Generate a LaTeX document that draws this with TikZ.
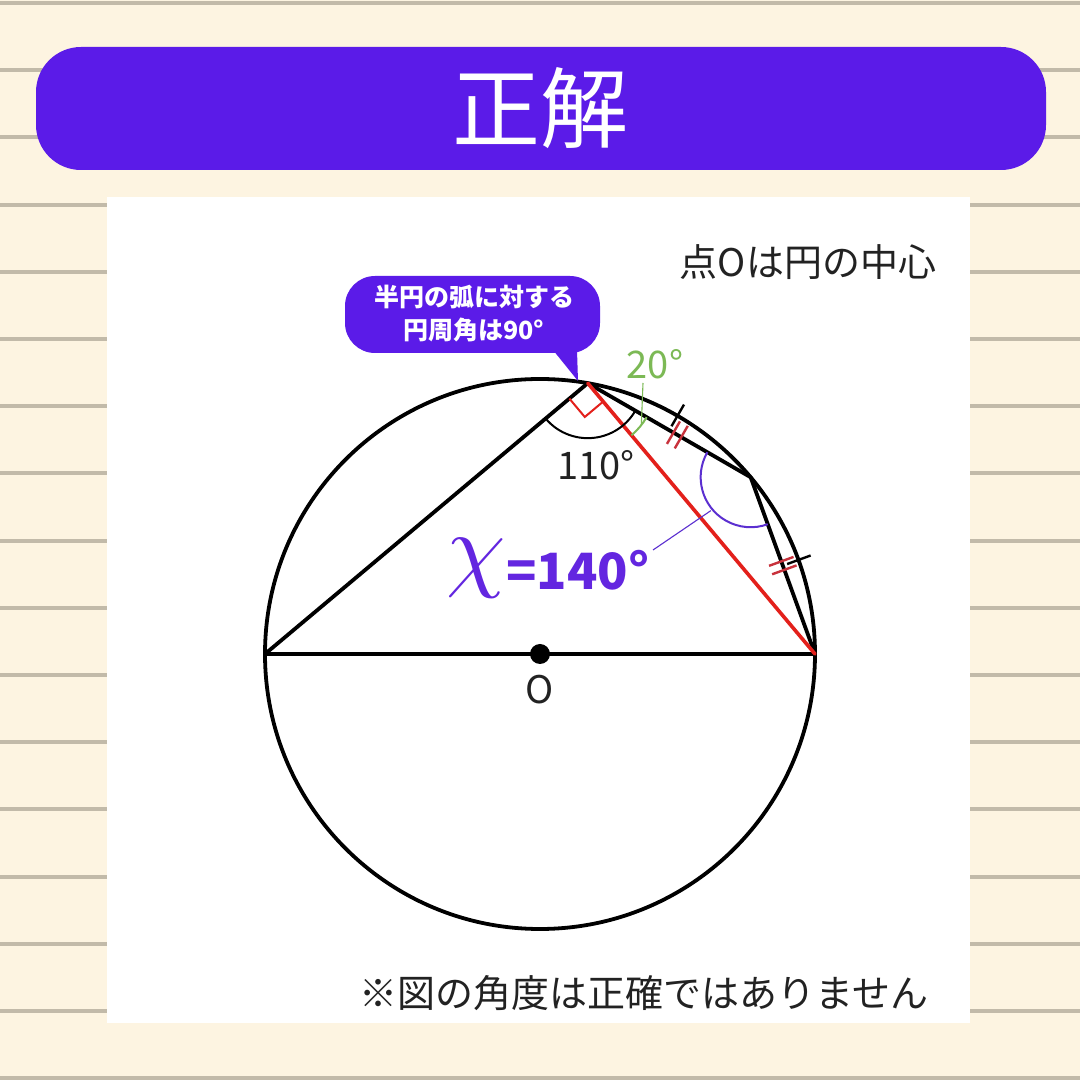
\documentclass[tikz,border=0pt]{standalone}
\usepackage{fontspec}
\newfontfamily\jp{Noto Sans CJK JP}
\usetikzlibrary{calc}
\definecolor{cream}{HTML}{FDF4E1}
\definecolor{rulec}{HTML}{C2BAA9}
\definecolor{hdr}{HTML}{5B1BE8}
\definecolor{purx}{HTML}{6326E0}
\definecolor{parc}{HTML}{5B2FD0}
\definecolor{grn}{HTML}{7CB955}
\definecolor{redl}{HTML}{E3201B}
\definecolor{redt}{HTML}{C8323C}
\definecolor{txt}{HTML}{222222}
\begin{document}
\begin{tikzpicture}[x=1pt,y=1pt,
  chord/.style={line width=3.8pt,black,line cap=round,line join=round},
  tick/.style={line width=2.4pt,black},
  rtick/.style={line width=2.4pt,redt},
  lbl/.style={font=\jp\fontsize{38}{38}\selectfont,text=txt,inner sep=0pt},
  leader/.style={line width=1.1pt}]
\useasboundingbox (0,0) rectangle (1080,1080);
% background
\fill[cream] (0,0) rectangle (1080,1080);
\foreach \k in {0,...,16}{
  \fill[rulec] (0,{1077-67.2*\k-2}) rectangle (1080,{1077-67.2*\k+2});
}
% header
\fill[hdr,rounded corners=45pt] (36,910) rectangle (1046,1033);
\node[text=white,font=\jp\fontsize{88}{88}\selectfont,inner sep=0pt] (title) at (540,972) {正解};
% panel
\fill[white] (107,57) rectangle (970,883);
% texts
\node[lbl] (note1) at (808,818) {点Oは円の中心};
\node[lbl] (note2) at (644,87) {※図の角度は正確ではありません};
% geometry
\coordinate (O) at (540,426);
\coordinate (A) at (265,426);
\coordinate (B) at (815,426);
\coordinate (C) at ($(O)+(80:275)$);
\coordinate (D) at ($(O)+(40:275)$);
\draw[line width=3.8pt] (O) circle[radius=275];
\draw[chord] (A) -- (B);
\draw[chord] (A) -- (C) -- (D) -- (B);
\draw[line width=3.6pt,redl,line cap=round] (C) -- (B);
\fill (O) circle[radius=10];
\node[lbl] (olbl) at (540,390) {O};
% right angle mark
\draw[redl,line width=2pt] ($(C)+(220:24)$) -- ($(C)+(220:24)+(310:24)$) -- ($(C)+(310:24)$);
% 110 arc
\draw[line width=2pt] ($(C)+(220:55)$) arc[start angle=220,end angle=330,radius=55];
\node[lbl] (l110) at (596,615) {110°};
% 20 arc
\draw[grn,line width=2pt] ($(C)+(310:68)$) arc[start angle=310,end angle=330,radius=68];
\coordinate (g1) at ($(C)+(322:68)$);
\coordinate (g2) at (643,697);
\draw[grn,leader] (g1) -- (g2);
\node[lbl,text=grn] (l20) at (655,716) {20°};
% x arc at D
\draw[parc,line width=2pt] ($(D)+(150:50)$) arc[start angle=150,end angle=290,radius=50];
\coordinate (p1) at ($(D)+(220:52)$);
\coordinate (p2) at (653,530);
\draw[parc,leader] (p1) -- (p2);
\node[text=purx,inner sep=0pt] (chi) at (476,512) {\scalebox{9.5}{$\chi$}};
\node[text=purx,font=\jp\bfseries\fontsize{50}{50}\selectfont,inner sep=0pt] (val) at (578,510) {=140°};
% equal-chord ticks
\coordinate (M1) at ($(C)!0.55!(D)$);
\coordinate (M2) at ($(D)!0.5!(B)$);
\draw[rtick] ($(M1)+(330:4.5)+(60:-13)$) -- ($(M1)+(330:4.5)+(60:13)$);
\draw[rtick] ($(M1)+(330:-4.5)+(60:-13)$) -- ($(M1)+(330:-4.5)+(60:13)$);
\draw[rtick] ($(M2)+(290:4.5)+(20:-13)$) -- ($(M2)+(290:4.5)+(20:13)$);
\draw[rtick] ($(M2)+(290:-4.5)+(20:-13)$) -- ($(M2)+(290:-4.5)+(20:13)$);
\draw[tick] ($(O)+(60:263)$) -- ($(O)+(60:288)$);
\draw[tick] ($(O)+(20:263)$) -- ($(O)+(20:288)$);
% bubble
\fill[hdr,rounded corners=30pt] (345,727) rectangle (600,804);
\fill[hdr] (553,730) -- (577,730) -- (578,699) -- cycle;
\node[text=white,font=\jp\bfseries\fontsize{25}{33}\selectfont,align=center,inner sep=0pt] (bub) at (474,766) {半円の弧に対する\\円周角は90°};
\end{tikzpicture}
\end{document}
